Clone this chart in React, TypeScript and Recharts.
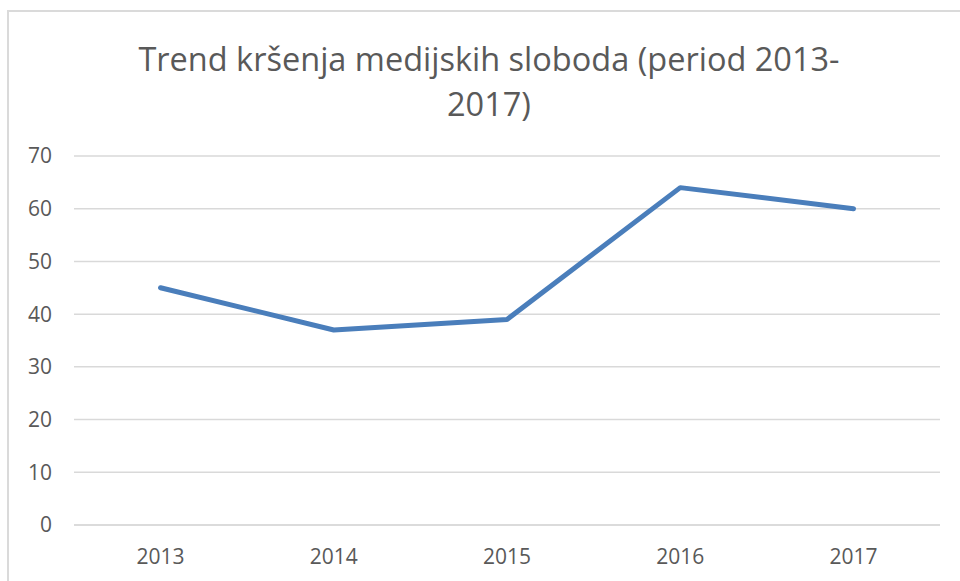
import React from 'react'
import {
    LineChart,
    Line,
    XAxis,
    YAxis,
    CartesianGrid,
} from 'recharts';

const years = ['2013', '2014', '2015', '2016', '2017'];
const violations = [45, 37, 39, 64, 60];
const yTicks = [0, 10, 20, 30, 40, 50, 60, 70];

const titleLine1 = 'Trend kršenja medijskih sloboda (period 2013-';
const titleLine2 = '2017)';

const data = years.map((year, i) => ({year: year, value: violations[i]}));

const font = '"Open Sans", "Liberation Sans", sans-serif';
const textColor = '#595959';

const App = () => {
  return <div style={{position: 'absolute', left: 0, top: 0, width: 960, height: 581, background: '#fff', fontFamily: font}}>
    <div style={{
      position: 'absolute', left: 7, top: 10, width: 960, height: 581,
      borderLeft: '2px solid #dadada', borderTop: '2px solid #dadada',
    }}/>
    <div style={{
      position: 'absolute', left: 0, top: 36, width: 978, textAlign: 'center',
      fontSize: 32.5, lineHeight: '45px', color: textColor,
    }}>
      {titleLine1}<br/>{titleLine2}
    </div>
    <div style={{position: 'absolute', left: 0, top: 0}}>
      <LineChart width={960} height={581} data={data}
                 margin={{top: 156, right: 20, left: 14, bottom: 0}}>
        <CartesianGrid vertical={false} stroke="#d9d9d9" strokeWidth={1.5} />
        <XAxis dataKey="year" height={56} tickLine={false}
               padding={{left: 86.5, right: 86.5}}
               axisLine={{stroke: '#d9d9d9', strokeWidth: 1.5}}
               tickMargin={18}
               tick={{fill: textColor, fontSize: 21, fontFamily: font}} />
        <YAxis width={60} domain={[0, 70]} ticks={yTicks} axisLine={false} tickLine={false}
               tickMargin={16}
               tick={{fill: textColor, fontSize: 21, fontFamily: font}} />
        <Line type="linear" dataKey="value" stroke="#4a7ebb" strokeWidth={5}
              strokeLinecap="round" strokeLinejoin="round"
              dot={false} isAnimationActive={false} />
      </LineChart>
    </div>
  </div>
};

export default App;
